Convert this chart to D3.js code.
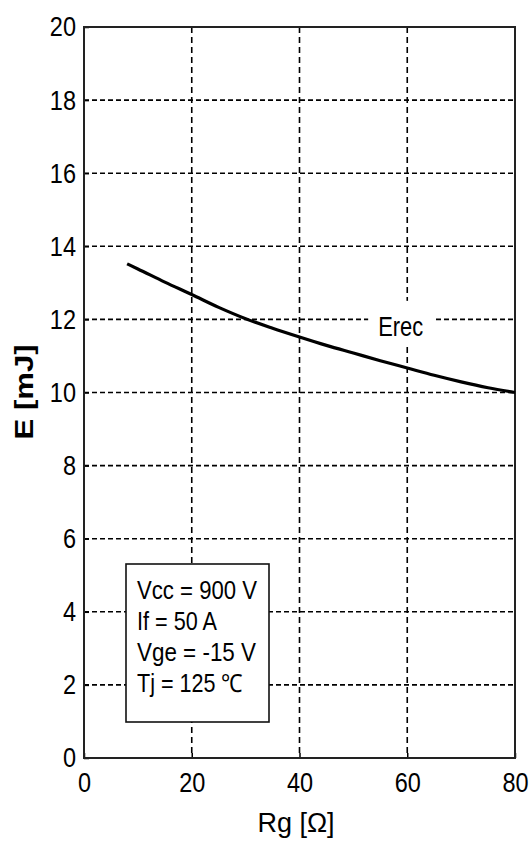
<!DOCTYPE html>
<html>
<head>
<meta charset="utf-8">
<script src="https://cdn.jsdelivr.net/npm/d3@7/dist/d3.min.js"></script>
<style>
  html, body { margin: 0; padding: 0; background: #fff; }
  svg { display: block; font-family: "Liberation Sans", Arial, sans-serif; }
</style>
</head>
<body>
<svg id="chart" width="532" height="843"></svg>
<script>
// Reverse-recovery energy versus gate resistance
const rgValues = [8, 10, 15, 20, 25, 30, 35, 40, 45, 50, 55, 60, 65, 70, 75, 80];
const erecValues = [13.52, 13.38, 13.02, 12.68, 12.33, 12.02, 11.76, 11.52, 11.29, 11.08, 10.87, 10.67, 10.47, 10.29, 10.13, 10.0];
const xTicks = [0, 20, 40, 60, 80];
const yTicks = [0, 2, 4, 6, 8, 10, 12, 14, 16, 18, 20];
const seriesName = "Erec";
const conditionLines = ["Vcc = 900 V", "If = 50 A", "Vge = -15 V", "Tj = 125 \u2103"];
const conditionWidths = [120, 80, 119, 106];

const svg = d3.select("#chart");
const plot = { left: 84, top: 27, right: 515, bottom: 758 };

const x = d3.scaleLinear().domain([0, 80]).range([plot.left, plot.right]);
const y = d3.scaleLinear().domain([0, 20]).range([plot.bottom, plot.top]);

// dashed grid
const grid = svg.append("g").attr("stroke", "#000").attr("stroke-width", 1.6).attr("fill", "none");
grid.selectAll("line.gx").data(xTicks.filter(d => d > 0 && d < 80)).join("line")
  .attr("class", "gx")
  .attr("x1", d => x(d)).attr("x2", d => x(d))
  .attr("y1", plot.top).attr("y2", plot.bottom)
  .attr("stroke-dasharray", "6,4");
grid.selectAll("line.gy").data(yTicks.filter(d => d > 0 && d < 20)).join("line")
  .attr("class", "gy")
  .attr("y1", d => y(d)).attr("y2", d => y(d))
  .attr("x1", plot.left).attr("x2", plot.right)
  .attr("stroke-dasharray", "5,3");

// axes with inward ticks
const tickFont = 28, tickScale = 0.84;
const xAxis = svg.append("g").attr("transform", `translate(0,${plot.bottom})`)
  .call(d3.axisBottom(x).tickValues(xTicks).tickSizeInner(-5).tickSizeOuter(0).tickPadding(14));
const yAxis = svg.append("g").attr("transform", `translate(${plot.left},0)`)
  .call(d3.axisLeft(y).tickValues(yTicks).tickSizeInner(-5).tickSizeOuter(0).tickPadding(8));
[xAxis, yAxis].forEach(a => {
  a.select(".domain").remove();
  a.selectAll(".tick line").attr("stroke", "#000").attr("stroke-width", 1.5);
  a.selectAll(".tick text")
    .attr("font-size", tickFont)
    .attr("font-family", "Liberation Sans, Arial, sans-serif")
    .attr("fill", "#000");
});
xAxis.selectAll(".tick text").attr("transform", `scale(${tickScale},1)`);
yAxis.selectAll(".tick text").each(function() {
  const t = d3.select(this);
  const xo = +t.attr("x");
  t.attr("x", xo / tickScale).attr("transform", `scale(${tickScale},1)`);
});

// plot frame
svg.append("rect")
  .attr("x", plot.left).attr("y", plot.top)
  .attr("width", plot.right - plot.left).attr("height", plot.bottom - plot.top)
  .attr("fill", "none").attr("stroke", "#222").attr("stroke-width", 2);

// curve
const line = d3.line().x((d, i) => x(rgValues[i])).y(d => y(d)).curve(d3.curveMonotoneX);
svg.append("path")
  .datum(erecValues)
  .attr("d", line)
  .attr("fill", "none")
  .attr("stroke", "#000")
  .attr("stroke-width", 3.2)
  .attr("stroke-linejoin", "round");

// series label with white backing
const lx = x(54.6), ly = y(11.55);
svg.append("rect").attr("x", lx - 10).attr("y", ly - 35).attr("width", 65).attr("height", 44).attr("fill", "#fff");
svg.append("text")
  .attr("x", lx).attr("y", ly)
  .attr("font-size", 27)
  .attr("textLength", 45).attr("lengthAdjust", "spacingAndGlyphs")
  .attr("fill", "#000")
  .text(seriesName);

// operating conditions box
const box = { x: 126, y: 564, w: 143, h: 158 };
svg.append("rect").attr("x", box.x).attr("y", box.y).attr("width", box.w).attr("height", box.h)
  .attr("fill", "#fff").attr("stroke", "#111").attr("stroke-width", 1.6);
svg.append("g").selectAll("text").data(conditionLines).join("text")
  .attr("x", box.x + 11)
  .attr("y", (d, i) => box.y + 35 + i * 31)
  .attr("font-size", 25)
  .attr("textLength", (d, i) => conditionWidths[i])
  .attr("lengthAdjust", "spacingAndGlyphs")
  .attr("fill", "#000")
  .text(d => d);

// axis titles
svg.append("text")
  .attr("x", 296).attr("y", 832)
  .attr("text-anchor", "middle")
  .attr("font-size", 27)
  .attr("fill", "#000")
  .text("Rg [\u03A9]");
svg.append("text")
  .attr("transform", "translate(33,392) rotate(-90)")
  .attr("text-anchor", "middle")
  .attr("font-size", 25)
  .attr("font-weight", "bold")
  .attr("textLength", 95).attr("lengthAdjust", "spacingAndGlyphs")
  .attr("fill", "#000")
  .text("E [mJ]");
</script>
</body>
</html>
